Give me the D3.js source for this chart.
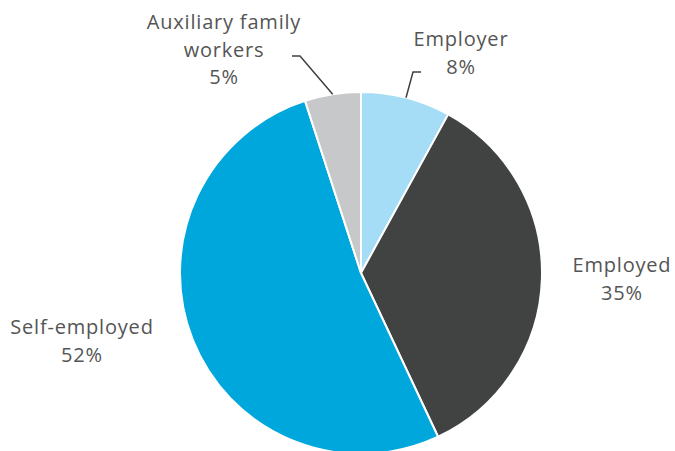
<!DOCTYPE html>
<html><head><meta charset="utf-8">
<script src="https://cdn.jsdelivr.net/npm/d3@7"></script>
<style>html,body{margin:0;padding:0;background:#fff;}</style>
</head><body>
<svg id="chart" width="675" height="451"></svg>
<script>
const categories = ["Employer", "Employed", "Self-employed", "Auxiliary family workers"];
const values = [8, 35, 52, 5];
const valueLabels = ["8%", "35%", "52%", "5%"];
const colors = ["#a4ddf5", "#414342", "#00a7dc", "#c7c8ca"];
const labelLines = [["Employer", "8%"], ["Employed", "35%"], ["Self-employed", "52%"], ["Auxiliary family", "workers", "5%"]];

const svg = d3.select("#chart");
const cx = 361, cy = 273, r = 181;
const g = svg.append("g").attr("transform", `translate(${cx},${cy})`);

const pie = d3.pie().sort(null).value(d => d);
const arcs = pie(values);
const arc = d3.arc().innerRadius(0).outerRadius(r);

g.selectAll("path.slice").data(arcs).enter().append("path")
  .attr("class", "slice")
  .attr("d", arc)
  .attr("fill", (d, i) => colors[i])
  .attr("stroke", "#fff")
  .attr("stroke-width", 2)
  .attr("stroke-linejoin", "round");

// label layout (absolute page positions of first baseline, centre x)
const labelPos = [
  {x: 461, y: 46},
  {x: 622, y: 272},
  {x: 82, y: 334},
  {x: 224, y: 29}
];
const lineH = 27.5;

labelLines.forEach((lines, i) => {
  const t = svg.append("text")
    .attr("text-anchor", "middle")
    .attr("font-family", "'Open Sans', sans-serif")
    .attr("font-size", 20)
    .attr("letter-spacing", 0.8)
    .attr("fill", "#555555");
  lines.forEach((l, j) => {
    t.append("tspan").attr("x", labelPos[i].x).attr("y", labelPos[i].y + j * lineH).text(l);
  });
});

// leader lines for small slices
const leaders = [
  {i: 0, bend: [413, 72], end: [421, 72]},
  {i: 3, bend: [300, 56], end: [292, 56]}
];
leaders.forEach(L => {
  const a = arcs[L.i];
  const mid = (a.startAngle + a.endAngle) / 2;
  const sx = cx + Math.sin(mid) * r, sy = cy - Math.cos(mid) * r;
  svg.append("polyline")
    .attr("points", [[sx, sy], L.bend, L.end].map(p => p.join(",")).join(" "))
    .attr("fill", "none")
    .attr("stroke", "#404040")
    .attr("stroke-width", 1.5);
});
</script>
</body></html>
